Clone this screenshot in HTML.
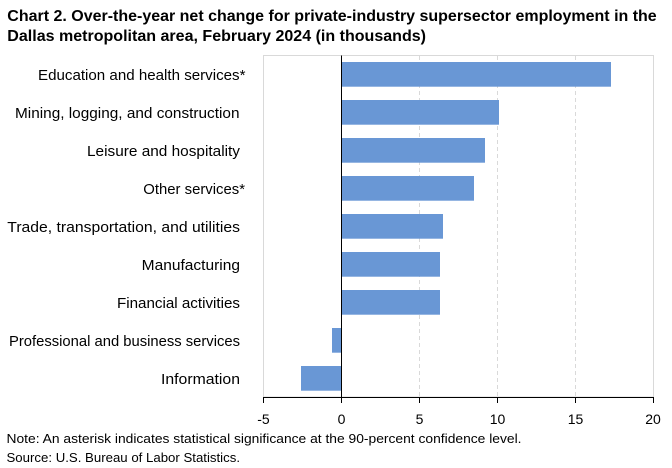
<!DOCTYPE html>
<html><head><meta charset="utf-8"><style>
html,body{margin:0;padding:0;background:#fff;}
svg{display:block;}
text{font-family:"Liberation Sans",sans-serif;fill:#000;}
</style></head><body>
<svg width="672" height="468" viewBox="0 0 672 468" xmlns="http://www.w3.org/2000/svg">
<rect width="672" height="468" fill="#fff"/>
<text x="7.3" y="21" font-size="16" font-weight="bold" textLength="649.4" lengthAdjust="spacingAndGlyphs">Chart 2. Over-the-year net change for private-industry supersector employment in the</text>
<text x="7.3" y="41" font-size="16" font-weight="bold" textLength="418.7" lengthAdjust="spacingAndGlyphs">Dallas metropolitan area, February 2024 (in thousands)</text>
<rect x="263.5" y="55.5" width="390" height="341.5" fill="none" stroke="#D9D9D9" stroke-width="1"/>
<g stroke="#D9D9D9" stroke-width="1" stroke-dasharray="4,3">
<line x1="419.5" y1="56" x2="419.5" y2="397"/>
<line x1="497.5" y1="56" x2="497.5" y2="397"/>
<line x1="575.5" y1="56" x2="575.5" y2="397"/>
</g>
<g fill="#6997D5">
<rect x="341.5" y="62" width="269.5" height="24.7"/>
<rect x="341.5" y="100" width="157.5" height="24.7"/>
<rect x="341.5" y="138" width="143.5" height="24.7"/>
<rect x="341.5" y="176" width="132.5" height="24.7"/>
<rect x="341.5" y="214" width="101.5" height="24.7"/>
<rect x="341.5" y="252" width="98.5" height="24.7"/>
<rect x="341.5" y="290" width="98.5" height="24.7"/>
<rect x="332" y="328" width="9.5" height="24.7"/>
<rect x="301" y="366" width="40.5" height="24.7"/>
</g>
<line x1="341.5" y1="55.5" x2="341.5" y2="397.5" stroke="#000" stroke-width="1"/>
<line x1="263" y1="397.5" x2="654" y2="397.5" stroke="#000" stroke-width="1"/>
<g stroke="#000" stroke-width="1">
<line x1="263.5" y1="397" x2="263.5" y2="403"/>
<line x1="341.5" y1="397" x2="341.5" y2="403"/>
<line x1="419.5" y1="397" x2="419.5" y2="403"/>
<line x1="497.5" y1="397" x2="497.5" y2="403"/>
<line x1="575.5" y1="397" x2="575.5" y2="403"/>
<line x1="653.5" y1="397" x2="653.5" y2="403"/>
</g>
<g font-size="14" text-anchor="middle">
<text x="263.5" y="424">-5</text>
<text x="341.5" y="424">0</text>
<text x="419.5" y="424">5</text>
<text x="497.5" y="424">10</text>
<text x="575.5" y="424">15</text>
<text x="653" y="424">20</text>
</g>
<g font-size="15">
<text x="38" y="80" textLength="207.5" lengthAdjust="spacingAndGlyphs">Education and health services*</text>
<text x="15" y="118" textLength="224.5" lengthAdjust="spacingAndGlyphs">Mining, logging, and construction</text>
<text x="87" y="156" textLength="153" lengthAdjust="spacingAndGlyphs">Leisure and hospitality</text>
<text x="143.3" y="194" textLength="101.7" lengthAdjust="spacingAndGlyphs">Other services*</text>
<text x="7.3" y="232" textLength="232.7" lengthAdjust="spacingAndGlyphs">Trade, transportation, and utilities</text>
<text x="141.7" y="270" textLength="98.3" lengthAdjust="spacingAndGlyphs">Manufacturing</text>
<text x="117" y="308" textLength="123" lengthAdjust="spacingAndGlyphs">Financial activities</text>
<text x="9" y="346" textLength="231" lengthAdjust="spacingAndGlyphs">Professional and business services</text>
<text x="161" y="384" textLength="79" lengthAdjust="spacingAndGlyphs">Information</text>
</g>
<text x="6.5" y="443" font-size="13" textLength="515" lengthAdjust="spacingAndGlyphs">Note: An asterisk indicates statistical significance at the 90-percent confidence level.</text>
<text x="6.5" y="462" font-size="13" textLength="233.5" lengthAdjust="spacingAndGlyphs">Source: U.S. Bureau of Labor Statistics.</text>
</svg>
</body></html>
